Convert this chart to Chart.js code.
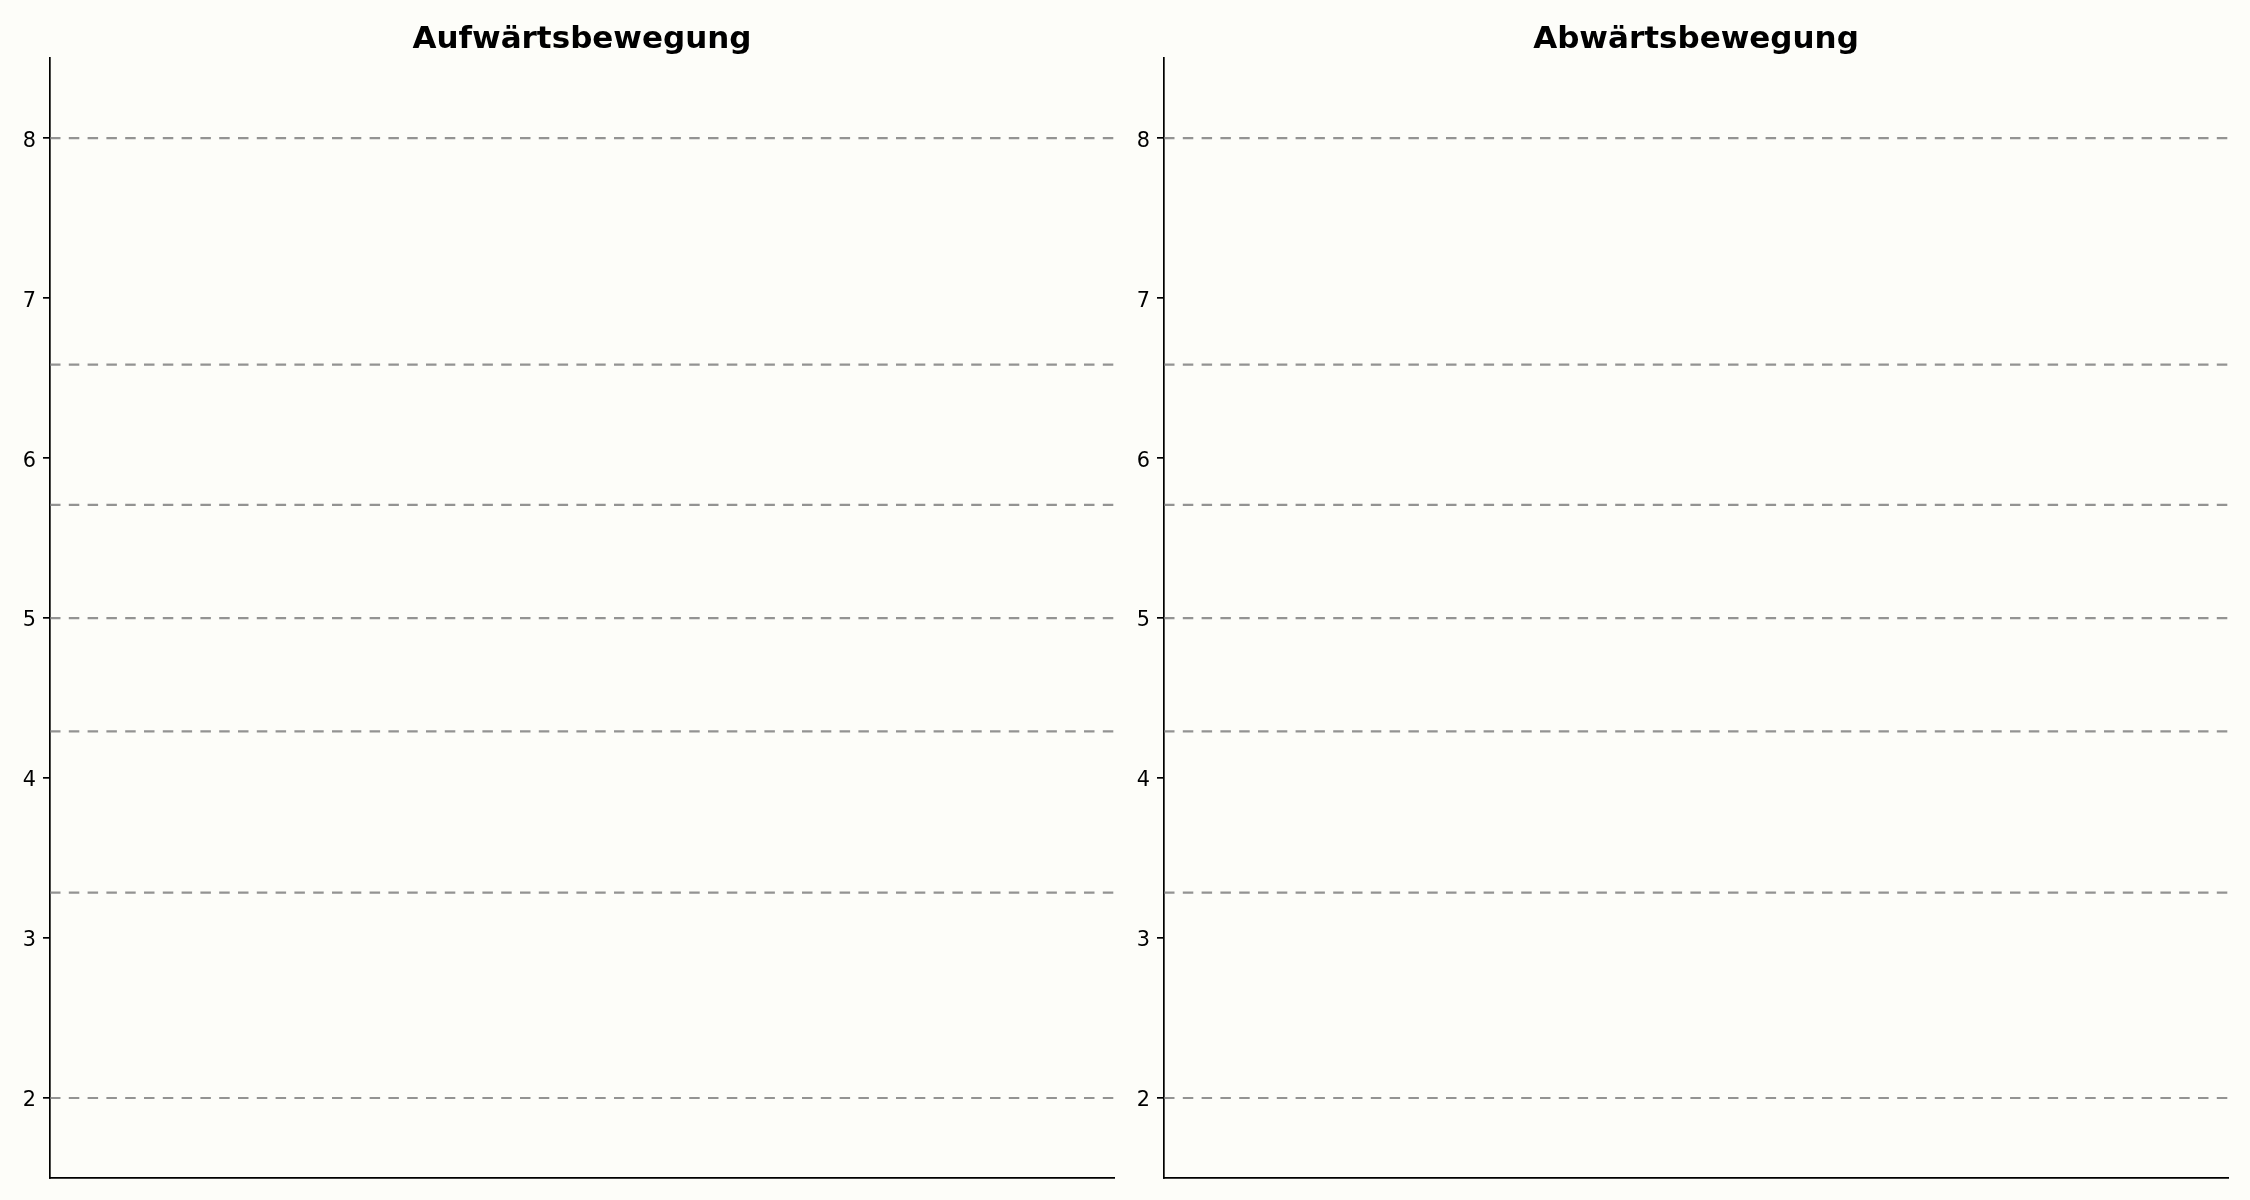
<!DOCTYPE html>
<html>
<head>
<meta charset="utf-8">
<script src="https://cdn.jsdelivr.net/npm/chart.js@4/dist/chart.umd.min.js"></script>
<style>
  html, body { margin: 0; padding: 0; background: #fdfdf9; overflow: hidden; }
  .panel { position: absolute; top: 0; width: 1126px; height: 1200px; }
</style>
</head>
<body>
<div class="panel" style="left:0px"><canvas id="upChart"></canvas></div>
<div class="panel" style="left:1114px"><canvas id="downChart"></canvas></div>
<script>
// tick labels on the y axis
const yTicks = [2, 3, 4, 5, 6, 7, 8];
const yRange = [1.5, 8.5];
const xRange = [0, 1];

// retracement levels
const upLevels = [8, 6.584, 5.708, 5, 4.292, 3.284, 2];
const downLevels = [8, 6.584, 5.708, 5, 4.292, 3.284, 2];

const titles = ['Aufwärtsbewegung', 'Abwärtsbewegung'];

function levelDatasets(levels) {
  return levels.map(function (lv) {
    return {
      data: [{ x: xRange[0], y: lv }, { x: xRange[1], y: lv }],
      borderColor: 'rgba(120,120,120,0.8)',
      borderWidth: 2.2,
      borderDash: [10.5, 8.3],
      pointRadius: 0,
      fill: false
    };
  });
}

function makeConfig(title, levels) {
  return {
    type: 'line',
    data: { datasets: levelDatasets(levels) },
    options: {
      responsive: true,
      maintainAspectRatio: false,
      devicePixelRatio: 1,
      animation: false,
      layout: { padding: { left: 0, right: 12, top: 0, bottom: 0 } },
      plugins: {
        legend: { display: false },
        tooltip: { enabled: false },
        title: {
          display: true,
          text: title,
          fullSize: false,
          color: '#000',
          font: { family: 'DejaVu Sans', size: 31, weight: 'bold' },
          padding: { top: 21, bottom: 0 }
        }
      },
      scales: {
        x: {
          type: 'linear',
          min: xRange[0],
          max: xRange[1],
          ticks: { display: false },
          grid: { drawOnChartArea: false, drawTicks: false },
          border: { display: true, color: '#000', width: 1.7 },
          afterFit: function (scale) { scale.height = 22; }
        },
        y: {
          type: 'linear',
          min: yRange[0],
          max: yRange[1],
          afterBuildTicks: function (scale) {
            scale.ticks = yTicks.map(function (v) { return { value: v }; });
          },
          ticks: {
            color: '#000',
            padding: 7,
            labelOffset: 3,
            font: { family: 'DejaVu Sans', size: 20.8 }
          },
          grid: {
            drawOnChartArea: false,
            drawTicks: true,
            tickLength: 7,
            color: '#000',
            lineWidth: 1.7
          },
          border: { display: true, color: '#000', width: 1.7 },
          afterFit: function (scale) { scale.width = 50; }
        }
      }
    }
  };
}

new Chart(document.getElementById('upChart'), makeConfig(titles[0], upLevels));
new Chart(document.getElementById('downChart'), makeConfig(titles[1], downLevels));
</script>
</body>
</html>
